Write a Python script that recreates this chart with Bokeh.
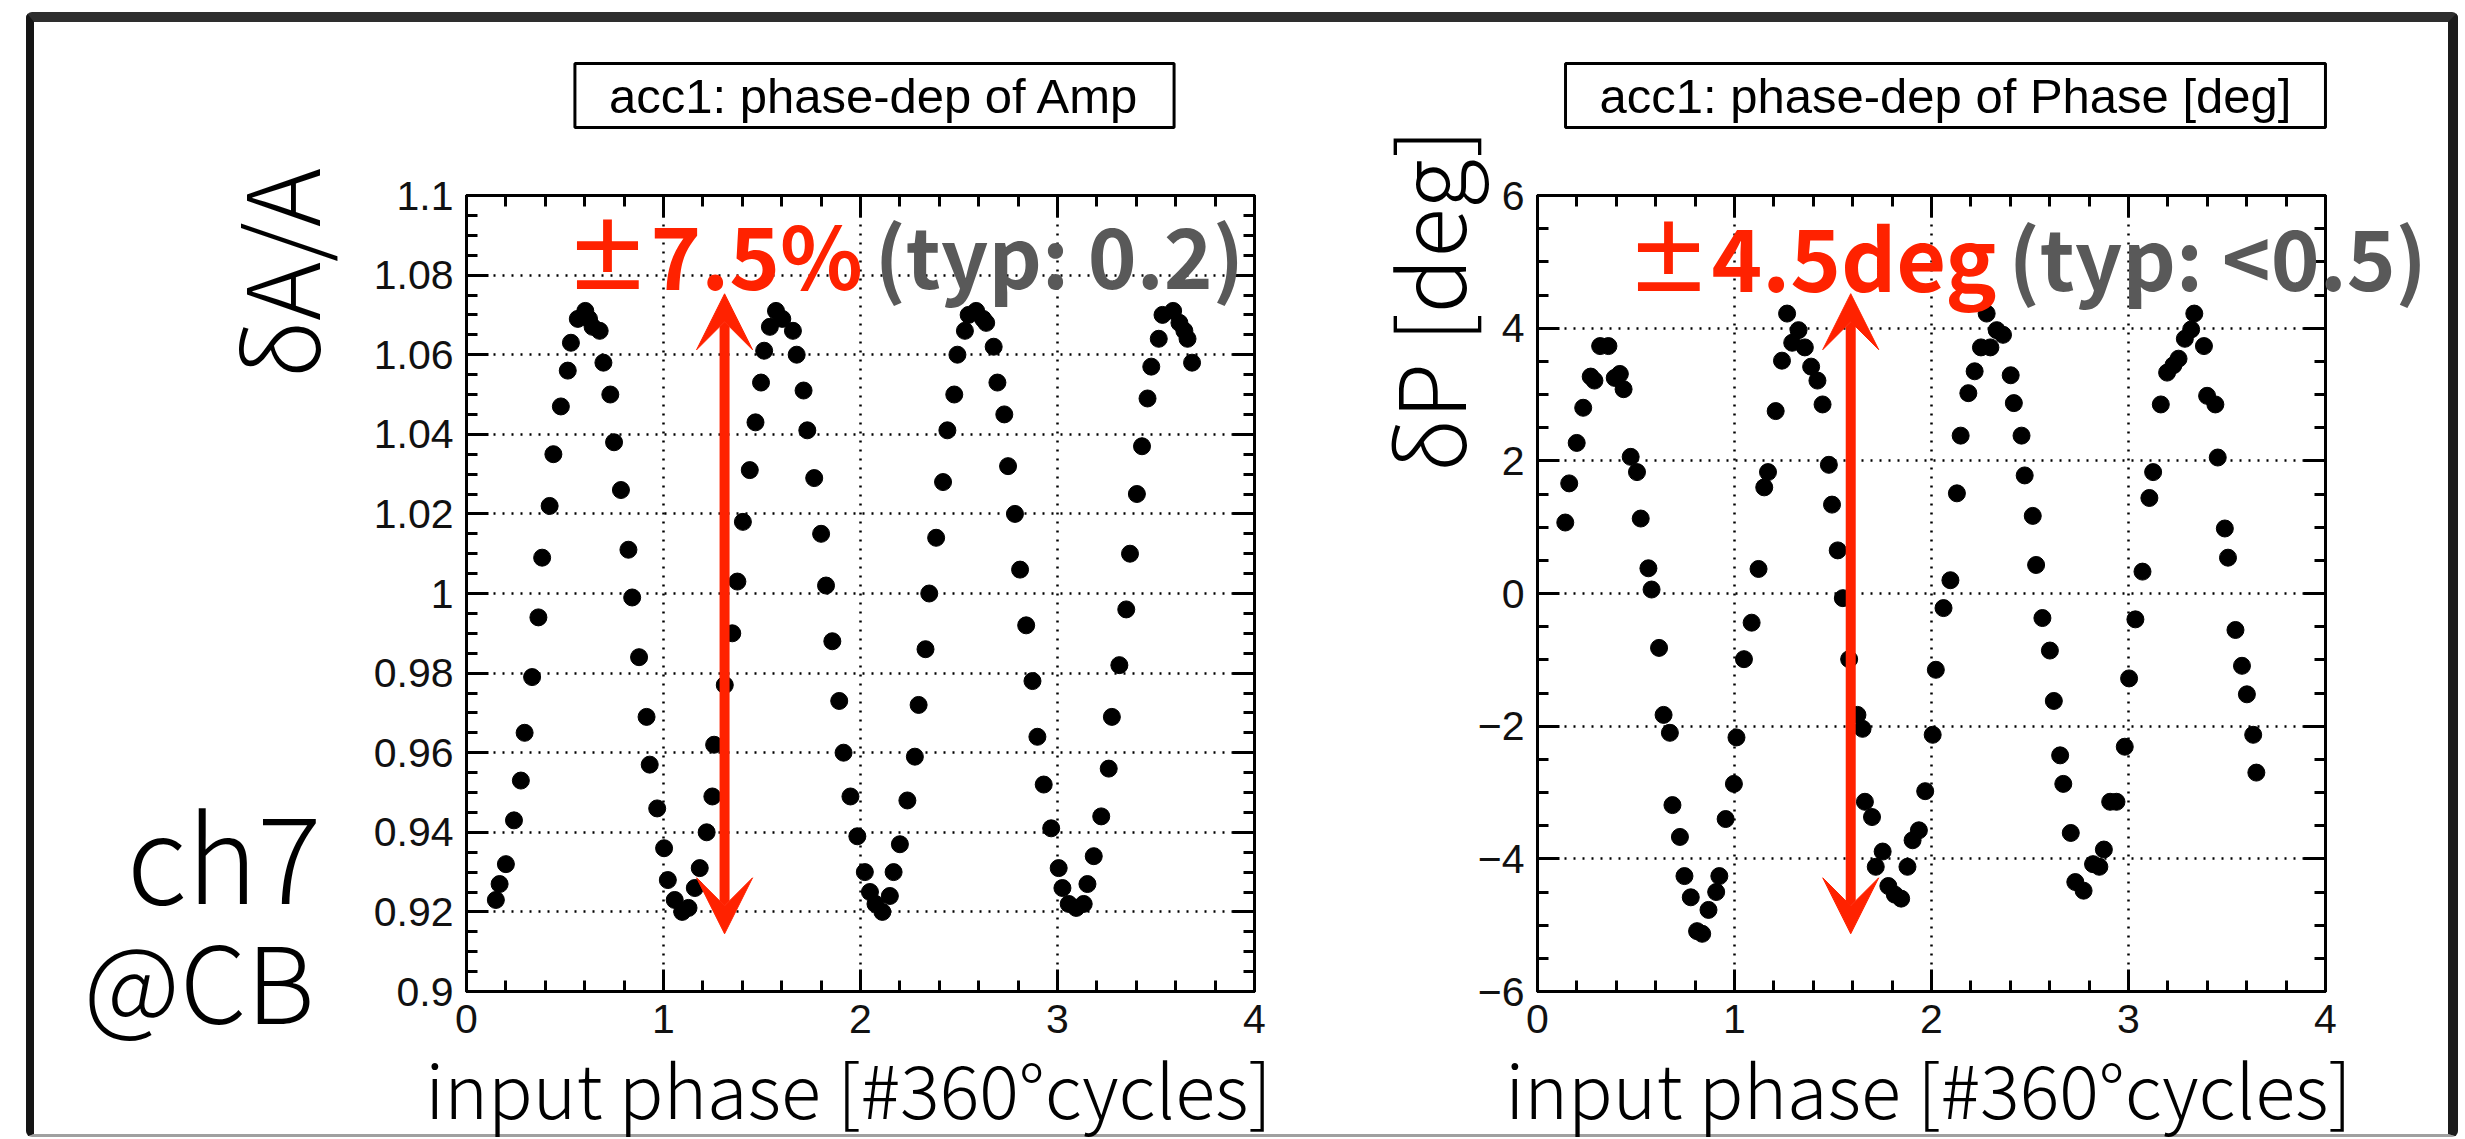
from bokeh.plotting import figure
from bokeh.models import (ColumnDataSource, Range1d, LinearAxis, SingleIntervalTicker,
                          CustomJSTickFormatter, Label, Arrow, VeeHead)
from bokeh.layouts import row
from bokeh.embed import file_html
from bokeh.resources import INLINE

# ---------------- data ----------------
amp_x = [0.149, 0.168, 0.200, 0.241, 0.276, 0.295, 0.333, 0.365, 0.384, 0.422, 0.441, 0.479,
         0.514, 0.530, 0.565, 0.603, 0.622, 0.640, 0.676, 0.695, 0.730, 0.749, 0.784, 0.822,
         0.841, 0.876, 0.914, 0.930, 0.968, 1.003, 1.022, 1.057, 1.095, 1.127, 1.159, 1.184,
         1.219, 1.248, 1.257, 1.311, 1.349, 1.375, 1.403, 1.438, 1.467, 1.495, 1.511, 1.540,
         1.571, 1.603, 1.657, 1.676, 1.711, 1.730, 1.765, 1.800, 1.825, 1.857, 1.892, 1.914,
         1.949, 1.984, 2.022, 2.048, 2.076, 2.111, 2.149, 2.168, 2.200, 2.238, 2.276, 2.295,
         2.330, 2.349, 2.384, 2.419, 2.441, 2.476, 2.492, 2.530, 2.549, 2.587, 2.622, 2.638,
         2.676, 2.695, 2.730, 2.749, 2.784, 2.810, 2.841, 2.873, 2.898, 2.930, 2.968, 3.006,
         3.025, 3.057, 3.095, 3.133, 3.152, 3.184, 3.222, 3.260, 3.276, 3.314, 3.349, 3.368,
         3.403, 3.429, 3.457, 3.476, 3.514, 3.533, 3.587, 3.619, 3.644, 3.660, 3.683]
amp_y = [0.923, 0.927, 0.932, 0.943, 0.953, 0.965, 0.979, 0.994, 1.009, 1.022, 1.035, 1.047,
         1.056, 1.063, 1.069, 1.071, 1.069, 1.067, 1.066, 1.058, 1.050, 1.038, 1.026, 1.011,
         0.999, 0.984, 0.969, 0.957, 0.946, 0.936, 0.928, 0.923, 0.920, 0.921, 0.926, 0.931,
         0.940, 0.949, 0.962, 0.977, 0.990, 1.003, 1.018, 1.031, 1.043, 1.053, 1.061, 1.067,
         1.071, 1.069, 1.066, 1.060, 1.051, 1.041, 1.029, 1.015, 1.002, 0.988, 0.973, 0.960,
         0.949, 0.939, 0.930, 0.925, 0.922, 0.920, 0.924, 0.930, 0.937, 0.948, 0.959, 0.972,
         0.986, 1.000, 1.014, 1.028, 1.041, 1.050, 1.060, 1.066, 1.070, 1.071, 1.069, 1.068,
         1.062, 1.053, 1.045, 1.032, 1.020, 1.006, 0.992, 0.978, 0.964, 0.952, 0.941, 0.931,
         0.926, 0.922, 0.921, 0.922, 0.927, 0.934, 0.944, 0.956, 0.969, 0.982, 0.996, 1.010,
         1.025, 1.037, 1.049, 1.057, 1.064, 1.070, 1.071, 1.068, 1.066, 1.064, 1.058]

phase_x = [0.141, 0.161, 0.199, 0.232, 0.270, 0.289, 0.318, 0.360, 0.392, 0.418, 0.437, 0.473,
           0.505, 0.524, 0.563, 0.579, 0.617, 0.640, 0.672, 0.685, 0.723, 0.746, 0.778, 0.810,
           0.836, 0.868, 0.907, 0.923, 0.955, 0.997, 1.010, 1.048, 1.087, 1.122, 1.151, 1.170,
           1.209, 1.241, 1.267, 1.293, 1.325, 1.357, 1.389, 1.421, 1.447, 1.479, 1.495, 1.524,
           1.550, 1.582, 1.624, 1.650, 1.662, 1.698, 1.717, 1.752, 1.781, 1.814, 1.846, 1.878,
           1.904, 1.936, 1.968, 2.006, 2.022, 2.061, 2.096, 2.129, 2.148, 2.187, 2.219, 2.251,
           2.280, 2.299, 2.331, 2.363, 2.402, 2.418, 2.457, 2.473, 2.514, 2.531, 2.563, 2.601,
           2.621, 2.653, 2.669, 2.707, 2.730, 2.772, 2.820, 2.852, 2.875, 2.907, 2.939, 2.981,
           3.003, 3.035, 3.071, 3.106, 3.125, 3.164, 3.196, 3.228, 3.254, 3.286, 3.318, 3.334,
           3.383, 3.399, 3.441, 3.453, 3.489, 3.505, 3.543, 3.576, 3.601, 3.633, 3.649]
phase_y = [1.07, 1.66, 2.27, 2.80, 3.27, 3.21, 3.73, 3.73, 3.25, 3.31, 3.08, 2.06,
           1.83, 1.13, 0.38, 0.06, -0.82, -1.83, -2.10, -3.19, -3.67, -4.26, -4.58, -5.09,
           -5.13, -4.77, -4.50, -4.26, -3.40, -2.87, -2.17, -0.99, -0.44, 0.37, 1.60, 1.83,
           2.75, 3.51, 4.22, 3.78, 3.97, 3.71, 3.42, 3.21, 2.85, 1.94, 1.34, 0.65,
           -0.07, -0.99, -1.83, -2.04, -3.14, -3.37, -4.12, -3.89, -4.41, -4.54, -4.60, -4.12,
           -3.72, -3.57, -2.98, -2.13, -1.15, -0.22, 0.20, 1.51, 2.38, 3.02, 3.35, 3.71,
           4.22, 3.71, 3.97, 3.90, 3.29, 2.87, 2.38, 1.78, 1.17, 0.43, -0.37, -0.86,
           -1.62, -2.44, -2.87, -3.61, -4.35, -4.48, -4.08, -4.12, -3.86, -3.14, -3.14, -2.31,
           -1.28, -0.39, 0.33, 1.44, 1.83, 2.85, 3.33, 3.44, 3.54, 3.84, 3.98, 4.22,
           3.73, 2.98, 2.85, 2.05, 0.98, 0.54, -0.55, -1.09, -1.52, -2.13, -2.70]

amp_arrow_x = [1.31]
amp_arrow_lo = [0.9145]
amp_arrow_hi = [1.0753]
phase_arrow_x = [1.59]
phase_arrow_lo = [-5.13]
phase_arrow_hi = [4.52]

amp_title = "acc1: phase-dep of Amp"
phase_title = "acc1: phase-dep of Phase [deg]"
amp_red, amp_gray = "\u00b17.5%", "(typ: 0.2)"
phase_red, phase_gray = "\u00b14.5deg", "(typ: <0.5)"
amp_ylabel = "\u03b4A/A"
phase_ylabel = "\u03b4P [deg]"
xlabel = "input phase [#360\u00b0cycles]"
ch_label, cb_label = "ch7", "@CB"

LIGHT = "Noto Sans CJK JP Light, Lato Light, Noto Sans CJK JP"
BOLD = "Noto Sans CJK JP"
TICKF = "Liberation Sans"
RED = "#ff2200"
GRAY = "#595959"

PAGE_W, PAGE_H = 2465, 1139
H = 1112
fmt_amp = CustomJSTickFormatter(code="return String(Math.round(tick*100)/100)")
fmt_phase = CustomJSTickFormatter(code="var s = String(Math.round(tick)); return s.replace('-', '\u2212')")


def style_axis(ax, ticker, fmt, show):
    ax.ticker = ticker
    ax.formatter = fmt
    ax.major_tick_in = 22
    ax.major_tick_out = 0
    ax.minor_tick_in = 11
    ax.minor_tick_out = 0
    ax.axis_line_width = 3
    ax.major_tick_line_width = 3
    ax.minor_tick_line_width = 3
    ax.major_label_text_font = TICKF
    ax.major_label_text_font_size = "41px"
    ax.major_label_text_color = "#111111" if show else None
    ax.major_label_standoff = 13 if show else 0


def panel(width, mbl, mbr, yr, xs, ys, yint, fmt, ax_x, ax_lo, ax_hi):
    p = figure(width=width, height=H, x_range=Range1d(0, 4), y_range=Range1d(*yr),
               output_backend="svg", toolbar_location=None,
               min_border_left=mbl, min_border_right=mbr,
               min_border_top=173, min_border_bottom=143)
    p.background_fill_color = "white"
    p.border_fill_color = "white"
    p.outline_line_color = "black"
    p.outline_line_width = 3
    xt = SingleIntervalTicker(interval=1, num_minor_ticks=5)
    yt = SingleIntervalTicker(interval=yint, num_minor_ticks=4)
    fx = CustomJSTickFormatter(code="return String(Math.round(tick))")
    style_axis(p.xaxis[0], xt, fx, True)
    style_axis(p.yaxis[0], yt, fmt, True)
    top = LinearAxis()
    right = LinearAxis()
    style_axis(top, xt, fx, False)
    style_axis(right, yt, fmt, False)
    p.add_layout(top, "above")
    p.add_layout(right, "right")
    for g, t in ((p.xgrid[0], xt), (p.ygrid[0], yt)):
        g.ticker = t
        g.grid_line_color = "black"
        g.grid_line_dash = "2 7"
        g.grid_line_width = 2.5
    p.scatter(xs, ys, size=17, color="black")
    src = ColumnDataSource(dict(x=ax_x, lo=ax_lo, hi=ax_hi))
    p.add_layout(Arrow(x_start="x", y_start="lo", x_end="x", y_end="hi", source=src,
                       line_color=RED, line_width=10,
                       start=VeeHead(size=56, fill_color=RED, line_color=RED),
                       end=VeeHead(size=56, fill_color=RED, line_color=RED)))
    return p


p1 = panel(1316, 432, 96, (0.9, 1.1), amp_x, amp_y, 0.02, fmt_amp,
           amp_arrow_x, amp_arrow_lo, amp_arrow_hi)
p2 = panel(1098, 187, 123, (-6, 6), phase_x, phase_y, 2, fmt_phase,
           phase_arrow_x, phase_arrow_lo, phase_arrow_hi)

layout = row(p1, p2, styles={
    "margin-left": "26px", "margin-top": "12px",
    "border-top": "10px solid #2e2e2e", "border-left": "8px solid #151515",
    "border-right": "10px solid #1c1c1c", "border-bottom": "3px solid #a0a0a0",
    "border-radius": "6px",
})

# transparent overlay carrying the slide texts, in page pixel coordinates
ov = figure(width=PAGE_W, height=PAGE_H, x_range=Range1d(0, PAGE_W), y_range=Range1d(PAGE_H, 0),
            x_axis_type=None, y_axis_type=None, output_backend="svg", toolbar_location=None,
            min_border=0, background_fill_color=None, border_fill_color=None,
            outline_line_color=None,
            styles={"position": "absolute", "top": "0px", "left": "0px", "z-index": "10"})
ov.grid.visible = False


def lab(x, y, text, size, font, color="black", align="left", baseline="alphabetic",
        angle=0.0, style="normal", **kw):
    ov.add_layout(Label(x=x, y=y, text=text, text_font=font, text_font_size=size,
                        text_color=color, text_align=align, text_baseline=baseline,
                        angle=angle, text_font_style=style, **kw))


box = dict(background_fill_color="white", border_line_color="black", border_line_width=3,
           padding=(34, 5))
lab(874, 95, amp_title, "49px", TICKF, align="center", baseline="middle", **box)
lab(1945, 95, phase_title, "49px", TICKF, align="center", baseline="middle", **box)

lab(564, 252, amp_red, "86px", BOLD, RED, style="bold")
lab(874, 252, amp_gray, "83px", BOLD, GRAY, style="bold")
lab(1625, 254, phase_red, "86px", BOLD, RED, style="bold")
lab(2008, 254, phase_gray, "83px", BOLD, GRAY, style="bold")

lab(276, 273, amp_ylabel, "100px", LIGHT, align="center", angle=1.5708)
lab(1425, 300, phase_ylabel, "92px", LIGHT, align="center", angle=1.5708)

lab(321, 851, ch_label, "120px", LIGHT, align="right")
lab(314, 977, cb_label, "106px", LIGHT, align="right")

lab(848, 1086, xlabel, "74px", LIGHT, align="center")
lab(1928, 1086, xlabel, "74px", LIGHT, align="center")

open("out.html", "w").write(file_html([layout, ov], INLINE))
